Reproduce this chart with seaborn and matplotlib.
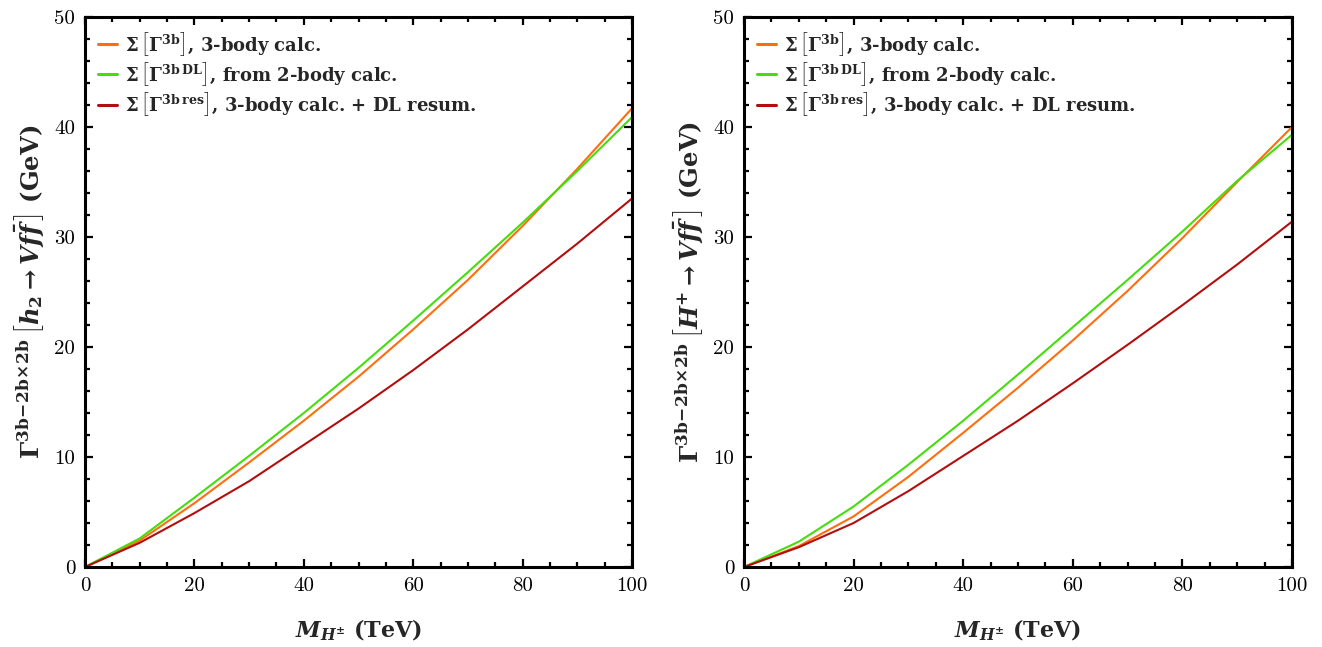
import numpy as np
import pandas as pd
import matplotlib
matplotlib.use("Agg")
import matplotlib.pyplot as plt
import matplotlib.ticker as mticker
import seaborn as sns

# ── data ─────────────────────────────────────────────────────────
mass = [0, 10, 20, 30, 40, 50, 60, 70, 80, 90, 100]

# left panel: h2 -> V f fbar
h2_3body = [0, 2.4, 5.8, 9.5, 13.3, 17.3, 21.6, 26.1, 31.0, 36.2, 41.7]
h2_dl    = [0, 2.6, 6.3, 10.1, 14.0, 18.1, 22.4, 26.8, 31.3, 36.0, 40.9]
h2_res   = [0, 2.2, 4.9, 7.8, 11.1, 14.4, 17.9, 21.6, 25.5, 29.4, 33.5]

# right panel: H+ -> V f fbar
hp_3body = [0, 1.9, 4.6, 8.2, 12.2, 16.3, 20.6, 25.1, 29.9, 35.0, 40.0]
hp_dl    = [0, 2.3, 5.5, 9.3, 13.3, 17.5, 21.8, 26.1, 30.5, 35.1, 39.3]
hp_res   = [0, 1.8, 4.0, 6.9, 10.1, 13.3, 16.7, 20.2, 23.8, 27.5, 31.4]

series_names = ["3body", "dl", "res"]
labels = [
    r"$\mathbf{\Sigma}\,\left[\mathbf{\Gamma}^{\mathrm{3b}}_{\,}\right]$, 3-body calc.",
    r"$\mathbf{\Sigma}\,\left[\mathbf{\Gamma}^{\mathrm{3b\,DL}}_{\,}\right]$, from 2-body calc.",
    r"$\mathbf{\Sigma}\,\left[\mathbf{\Gamma}^{\mathrm{3b\,res}}_{\,}\right]$, 3-body calc. + DL resum.",
]
colors = {"3body": "#FF6E0E", "dl": "#45DD0E", "res": "#B20E0E"}

ylabels = [
    r"$\mathbf{\Gamma}^{\mathrm{3b\!-\!2b\!\times\!2b}}\,\left[\mathbfit{h}_{\mathrm{2}} \to \mathbfit{Vf\bar{f}}_{\,}\right]$ (GeV)",
    r"$\mathbf{\Gamma}^{\mathrm{3b\!-\!2b\!\times\!2b}}\,\left[\mathbfit{H}^{\mathrm{+}} \to \mathbfit{Vf\bar{f}}_{\,}\right]$ (GeV)",
]
xlabel = r"$\mathbfit{M}_{\mathbfit{H}^{\mathbf{\pm}}}$ (TeV)"

# ── style ────────────────────────────────────────────────────────
sns.set_theme(style="ticks")
plt.rcParams["font.family"] = ["cmr10", "DejaVu Serif"]
plt.rcParams["mathtext.fontset"] = "custom"
plt.rcParams["mathtext.rm"] = "DejaVu Serif:bold"
plt.rcParams["mathtext.it"] = "DejaVu Serif:italic:bold"
plt.rcParams["mathtext.bf"] = "DejaVu Serif:bold"
plt.rcParams["mathtext.bfit"] = "DejaVu Serif:italic:bold"
plt.rcParams["mathtext.fallback"] = "cm"
plt.rcParams["axes.formatter.use_mathtext"] = False
plt.rcParams["axes.unicode_minus"] = False

TEXT_FONT = {"family": "DejaVu Serif", "weight": "bold"}


def long_frame(a, b, c):
    return pd.DataFrame({
        "mass": mass * 3,
        "width": a + b + c,
        "series": sum([[s] * len(mass) for s in series_names], []),
    })


panels = [long_frame(h2_3body, h2_dl, h2_res), long_frame(hp_3body, hp_dl, hp_res)]

fig = plt.figure(figsize=(13.22, 6.47), dpi=100)
W, H = 1322, 647
axes = [
    fig.add_axes([85 / W, (H - 567) / H, 547 / W, 550 / H]),
    fig.add_axes([744 / W, (H - 567) / H, 548 / W, 550 / H]),
]

for ax, df, ylab in zip(axes, panels, ylabels):
    sns.lineplot(data=df, x="mass", y="width", hue="series", hue_order=series_names,
                 palette=colors, linewidth=1.5, ax=ax, legend=False)
    ax.set_xlim(0, 100)
    ax.set_ylim(0, 50)
    ax.xaxis.set_major_locator(mticker.MultipleLocator(20))
    ax.xaxis.set_minor_locator(mticker.MultipleLocator(5))
    ax.yaxis.set_major_locator(mticker.MultipleLocator(10))
    ax.yaxis.set_minor_locator(mticker.MultipleLocator(2))
    ax.tick_params(which="both", direction="in", top=True, right=True, width=1.6,
                   colors="black", labelsize=15, pad=7)
    ax.tick_params(which="major", length=6)
    ax.tick_params(which="minor", length=3.5)
    for sp in ax.spines.values():
        sp.set_linewidth(2.2)
        sp.set_color("black")
    ax.set_xlabel(xlabel, fontsize=16, labelpad=17, **TEXT_FONT)
    ax.set_ylabel(ylab, fontsize=17.5, labelpad=6, **TEXT_FONT)

    handles = [plt.Line2D([], [], color=colors[s], linewidth=2.2) for s in series_names]
    ax.legend(handles, labels, loc="upper left", frameon=False,
              prop={"family": "DejaVu Serif", "weight": "bold", "size": 13},
              handlelength=1.05, handletextpad=0.45, labelspacing=0.12,
              borderaxespad=0.5, borderpad=0.2)

fig.savefig("out.png", dpi=100)
